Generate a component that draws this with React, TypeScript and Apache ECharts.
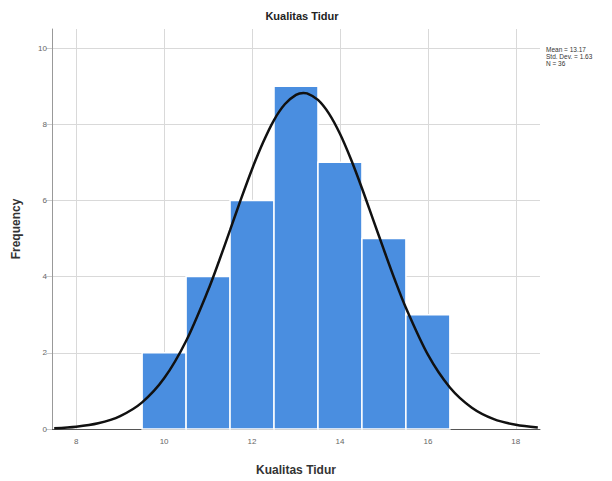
import React, { useEffect, useRef } from "react";
import * as echarts from "echarts";

const binCenters = [10, 11, 12, 13, 14, 15, 16];
const frequencies = [2, 4, 6, 9, 7, 5, 3];
const curveX = [7.5, 8, 8.5, 9, 9.5, 10, 10.5, 11, 11.25, 11.5, 11.75, 12, 12.25, 12.5, 12.75, 13, 13.17, 13.25, 13.5, 13.75, 14, 14.25, 14.5, 14.75, 15, 15.25, 15.5, 16, 16.5, 17, 17.5, 18, 18.5];
const curveY = [0.02, 0.06, 0.15, 0.34, 0.7, 1.33, 2.31, 3.64, 4.41, 5.22, 6.04, 6.82, 7.52, 8.11, 8.53, 8.77, 8.82, 8.81, 8.64, 8.28, 7.75, 7.08, 6.32, 5.51, 4.7, 3.91, 3.18, 1.95, 1.09, 0.56, 0.26, 0.11, 0.04];
const xTicks = [8, 10, 12, 14, 16, 18];
const yTicks = [0, 2, 4, 6, 8, 10];
const statsLines = ["Mean = 13.17", "Std. Dev. = 1.63", "N = 36"];
const titleText = "Kualitas Tidur";
const xName = "Kualitas Tidur";
const yName = "Frequency";

const FONT = "Liberation Sans, Arial, sans-serif";

export default function App() {
  const ref = useRef<HTMLDivElement>(null);
  useEffect(() => {
    if (!ref.current) return;
    const chart = echarts.init(ref.current, undefined, { renderer: "svg" });
    const barData = binCenters.map((c, i) => [c, frequencies[i]]);
    const curveData = curveX.map((x, i) => [x, curveY[i]]);
    const gridLines = [
      ...xTicks.map((v) => ({ xAxis: v })),
      ...yTicks.filter((v) => v > 0).map((v) => ({ yAxis: v })),
    ];
    chart.setOption({
      animation: false,
      backgroundColor: "#ffffff",
      title: {
        text: titleText,
        left: 297,
        textAlign: "center",
        top: 5,
        textStyle: { fontFamily: FONT, fontSize: 11, fontWeight: "bold", color: "#222" },
      },
      grid: { left: 52, right: 72, top: 29, bottom: 51, containLabel: false },
      xAxis: {
        type: "value",
        min: 7.45,
        max: 18.55,
        name: xName,
        nameLocation: "middle",
        nameGap: 35,
        nameTextStyle: { fontFamily: FONT, fontSize: 12, fontWeight: "bold", color: "#333" },
        axisLine: { show: true, lineStyle: { color: "#555", width: 1 } },
        axisTick: { show: false },
        splitLine: { show: false },
        axisLabel: {
          fontFamily: FONT,
          fontSize: 8,
          color: "#666",
          margin: 8,
          customValues: xTicks,
          formatter: (v: number) => (xTicks.includes(v) ? String(v) : ""),
        },
      },
      yAxis: {
        type: "value",
        min: 0,
        max: 10.5,
        name: yName,
        nameLocation: "middle",
        nameGap: 30,
        nameTextStyle: { fontFamily: FONT, fontSize: 12, fontWeight: "bold", color: "#333" },
        axisLine: { show: true, lineStyle: { color: "#999", width: 1 } },
        axisTick: { show: true, length: 6, lineStyle: { color: "#ccc" }, customValues: yTicks },
        splitLine: { show: false },
        axisLabel: {
          fontFamily: FONT,
          fontSize: 8,
          color: "#666",
          margin: 5,
          customValues: yTicks,
          formatter: (v: number) => (yTicks.includes(v) ? String(v) : ""),
        },
      },
      series: [
        {
          type: "line",
          data: [],
          z: 0,
          silent: true,
          markLine: {
            silent: true,
            symbol: "none",
            z: 0,
            label: { show: false },
            lineStyle: { color: "#d9d9d9", width: 1, type: "solid" },
            emphasis: { disabled: true },
            data: gridLines,
          },
        },
        {
          type: "custom",
          z: 3,
          data: barData,
          renderItem: (params: any, api: any) => {
            const c = api.value(0);
            const f = api.value(1);
            const p0 = api.coord([c - 0.5, f]);
            const p1 = api.coord([c + 0.5, 0]);
            return {
              type: "rect",
              shape: { x: p0[0], y: p0[1], width: p1[0] - p0[0], height: p1[1] - p0[1] },
              style: { fill: "#4a8ee0", stroke: "#ffffff", lineWidth: 1.5 },
            };
          },
        },
        {
          type: "line",
          z: 5,
          data: curveData,
          smooth: 0.3,
          showSymbol: false,
          clip: true,
          lineStyle: { color: "#111", width: 2.5 },
          itemStyle: { color: "#111" },
        },
      ],
      graphic: statsLines.map((t, i) => ({
        type: "text",
        left: 546,
        top: 46 + i * 7,
        style: { text: t, fontFamily: FONT, fontSize: 6.5, fill: "#333" },
      })),
    });
    return () => chart.dispose();
  }, []);
  return (
    <div
      ref={ref}
      style={{ position: "fixed", left: 0, top: 0, width: 612, height: 481 }}
    />
  );
}
